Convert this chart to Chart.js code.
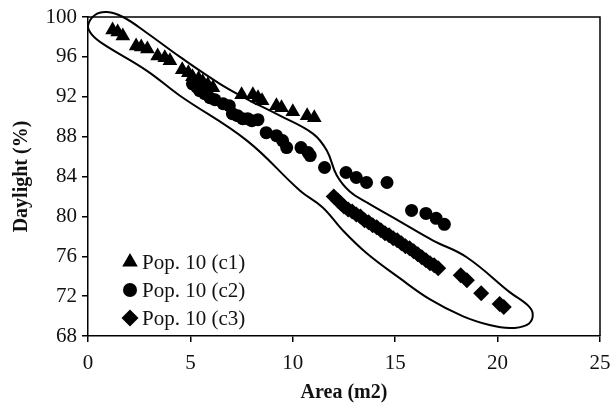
<!DOCTYPE html>
<html>
<head>
<meta charset="utf-8">
<script src="https://cdn.jsdelivr.net/npm/chart.js@4.4.1/dist/chart.umd.min.js"></script>
<style>
  html, body { margin: 0; padding: 0; background: #fff; }
  #wrap { width: 614px; height: 405px; }
</style>
</head>
<body>
<div id="wrap"><canvas id="myChart" width="614" height="405"></canvas></div>
<script>
// Pop. 10 - area vs daylight, three configurations
var c1X = [1.2, 1.45, 1.7, 2.35, 2.6, 2.9, 3.4, 3.75, 4.0, 4.6, 4.9, 5.1, 5.4, 5.6, 5.85, 6.1, 7.5, 8.05, 8.3, 8.5, 9.2, 9.45, 10.0, 10.7, 11.05];
var c1Y = [98.7, 98.5, 98.1, 97.1, 97.0, 96.8, 96.1, 95.9, 95.6, 94.7, 94.4, 94.0, 93.8, 93.5, 93.2, 92.9, 92.2, 92.2, 91.9, 91.6, 91.1, 90.9, 90.5, 90.1, 89.9];

var c2X = [5.1, 5.3, 5.45, 5.7, 5.95, 6.2, 6.6, 6.9, 7.05, 7.3, 7.55, 7.8, 8.0, 8.3, 8.7, 9.2, 9.5, 9.7, 10.4, 10.75, 10.85, 11.55, 12.6, 13.1, 13.6, 14.6, 15.8, 16.5, 17.0, 17.4];
var c2Y = [93.3, 93.0, 92.6, 92.3, 91.9, 91.7, 91.3, 91.1, 90.3, 90.1, 89.8, 89.8, 89.6, 89.7, 88.4, 88.1, 87.6, 86.9, 86.9, 86.4, 86.1, 84.9, 84.4, 83.9, 83.4, 83.4, 80.6, 80.3, 79.8, 79.2];

var c3X = [12.0, 12.2, 12.35, 12.5, 12.7, 12.9, 13.1, 13.3, 13.5, 13.7, 13.9, 14.1, 14.3, 14.5, 14.7, 14.9, 15.1, 15.3, 15.5, 15.7, 15.9, 16.1, 16.3, 16.5, 16.7, 16.9, 17.1, 18.2, 18.5, 19.2, 20.1, 20.3];
var c3Y = [82.0, 81.6, 81.3, 81.0, 80.7, 80.5, 80.2, 80.0, 79.6, 79.4, 79.1, 78.9, 78.6, 78.3, 78.1, 77.8, 77.6, 77.3, 77.0, 76.8, 76.5, 76.2, 75.9, 75.6, 75.3, 75.1, 74.8, 74.1, 73.6, 72.3, 71.2, 70.9];

// hand-drawn envelope round the three groups (closed, first point repeated)
var outlineX = [7.9, 9.37, 10.98, 11.66, 12.15, 12.78, 13.61, 15.22, 16.83, 18.49, 20.59, 21.56, 21.71, 21.41, 20.59, 19.61, 18.29, 16.68, 15.22, 13.61, 12.44, 11.46, 10.34, 7.76, 4.49, 2.88, 0.73, 0.2, 0.0, 0.34, 0.93, 1.71, 2.88, 4.49, 6.44, 7.9];
var outlineY = [91.6, 90.1, 88.3, 86.6, 84.1, 82.5, 81.4, 79.5, 77.6, 75.9, 72.4, 70.9, 69.9, 69.1, 68.8, 69.1, 70.0, 71.7, 73.8, 76.3, 78.6, 80.9, 82.6, 87.6, 92.1, 94.6, 97.3, 98.2, 99.1, 100.2, 100.5, 100.0, 98.4, 96.0, 93.3, 91.6];

var xTicks = [0, 5, 10, 15, 20, 25];
var yTicks = [68, 72, 76, 80, 84, 88, 92, 96, 100];

var seriesNames = ['Pop. 10 (c1)', 'Pop. 10 (c2)', 'Pop. 10 (c3)'];
var seriesStyles = ['triangle', 'circle', 'rectRot'];
var seriesRadius = [8.5, 6.5, 8];

var serif = "'Liberation Serif', 'Times New Roman', serif";

function pts(xs, ys) {
	return xs.map(function(x, i) { return {x: x, y: ys[i]}; });
}

var frame = {
	id: 'frame',
	afterDatasetsDraw: function(chart) {
		var a = chart.chartArea, ctx = chart.ctx;
		ctx.save();
		ctx.strokeStyle = '#000';
		ctx.lineWidth = 1.5;
		ctx.beginPath();
		ctx.moveTo(a.left, a.top);
		ctx.lineTo(a.right, a.top);
		ctx.lineTo(a.right, a.bottom);
		ctx.stroke();
		ctx.restore();
	}
};

// legend sits inside the plot, lower left
var innerLegend = {
	id: 'innerLegend',
	afterDraw: function(chart) {
		var ctx = chart.ctx;
		var a = chart.chartArea;
		ctx.save();
		ctx.font = '21px ' + serif;
		ctx.textBaseline = 'middle';
		seriesNames.forEach(function(name, i) {
			var cx = a.left + 42, cy = a.bottom - 74 + i * 28;
			ctx.fillStyle = '#000';
			ctx.strokeStyle = '#000';
			Chart.helpers.drawPoint(ctx, {pointStyle: seriesStyles[i], radius: seriesRadius[i] + 0.5, rotation: 0, borderWidth: 0}, cx, cy);
			ctx.fillStyle = '#111';
			ctx.fillText(name, cx + 12, cy + 1);
		});
		ctx.restore();
	}
};

var ctx = document.getElementById("myChart").getContext("2d");
var myChart = new Chart(ctx, {
	type: 'scatter',
	data: {
		datasets: [{
			label: seriesNames[0],
			data: pts(c1X, c1Y),
			pointStyle: seriesStyles[0],
			pointRadius: seriesRadius[0],
			backgroundColor: '#000',
			borderWidth: 0
		}, {
			label: seriesNames[1],
			data: pts(c2X, c2Y),
			pointStyle: seriesStyles[1],
			pointRadius: seriesRadius[1],
			backgroundColor: '#000',
			borderWidth: 0
		}, {
			label: seriesNames[2],
			data: pts(c3X, c3Y),
			pointStyle: seriesStyles[2],
			pointRadius: seriesRadius[2],
			backgroundColor: '#000',
			borderWidth: 0
		}, {
			label: 'outline',
			data: pts(outlineX, outlineY),
			showLine: true,
			pointRadius: 0,
			borderColor: '#000',
			borderWidth: 2,
			tension: 0.4,
			capBezierPoints: false,
			fill: false,
			clip: false
		}]
	},
	options: {
		responsive: false,
		animation: false,
		layout: { autoPadding: false, padding: { top: 17, right: 14, left: 0, bottom: 0 } },
		plugins: {
			legend: { display: false },
			tooltip: { enabled: false }
		},
		scales: {
			x: {
				type: 'linear',
				min: 0, max: 25,
				afterBuildTicks: function(s) { s.ticks = xTicks.map(function(v) { return {value: v}; }); },
				afterFit: function(s) { s.height = 69; s.paddingLeft = 0; s.paddingRight = 0; },
				ticks: { color: '#111', font: { family: serif, size: 21 }, padding: 9 },
				grid: { drawOnChartArea: false, drawTicks: true, tickLength: 6, color: '#000', lineWidth: 1.5 },
				border: { display: true, color: '#000', width: 1.5 },
				title: { display: true, text: 'Area (m2)', color: '#111', font: { family: serif, size: 20, weight: 'bold' }, padding: { top: 0, bottom: 0 } }
			},
			y: {
				type: 'linear',
				min: 68, max: 100,
				afterBuildTicks: function(s) { s.ticks = yTicks.map(function(v) { return {value: v}; }); },
				afterFit: function(s) { s.width = 88; s.paddingTop = 0; s.paddingBottom = 0; },
				ticks: { color: '#111', font: { family: serif, size: 21 }, padding: 5 },
				grid: { drawOnChartArea: false, drawTicks: true, tickLength: 6, color: '#000', lineWidth: 1.5 },
				border: { display: true, color: '#000', width: 1.5 },
				title: { display: true, text: 'Daylight (%)', color: '#111', font: { family: serif, size: 20, weight: 'bold' }, padding: { top: 10, bottom: 0 } }
			}
		}
	},
	plugins: [frame, innerLegend]
});
</script>
</body>
</html>
